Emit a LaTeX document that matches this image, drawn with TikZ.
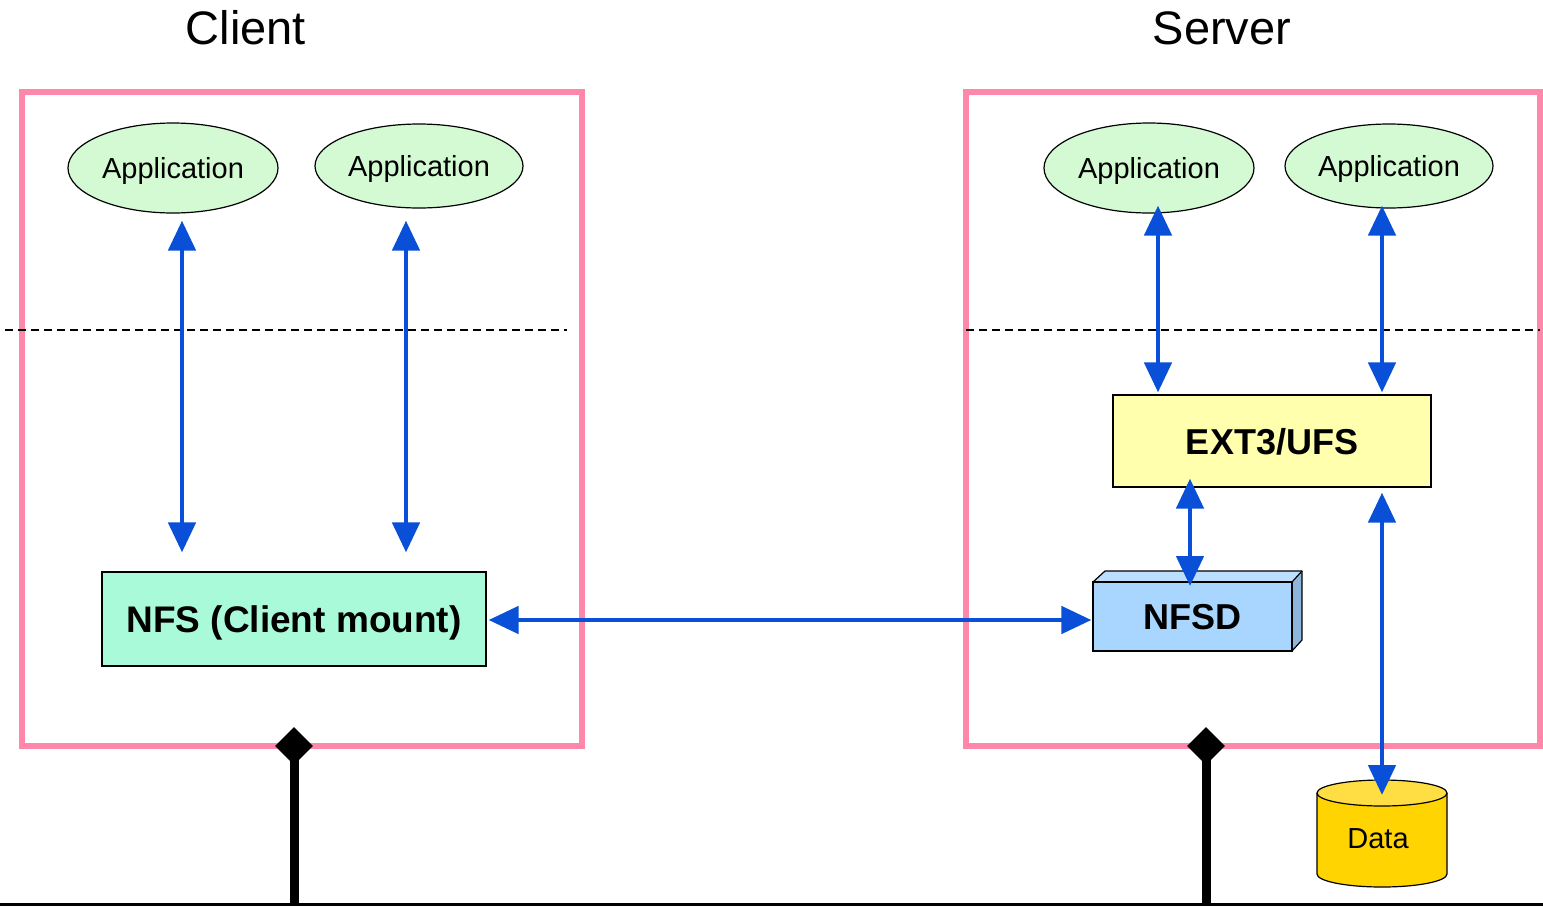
\documentclass[tikz,border=0pt]{standalone}
\usepackage{fontspec}
\setmainfont{Liberation Sans}
\usetikzlibrary{arrows.meta,shapes.geometric,calc}
\definecolor{pinkb}{HTML}{FF88AA}
\definecolor{appfill}{HTML}{D4FAD4}
\definecolor{nfsfill}{HTML}{A8FAD8}
\definecolor{nfsdfront}{HTML}{A8D6FF}
\definecolor{nfsdtop}{HTML}{BCDFFF}
\definecolor{nfsdside}{HTML}{8EB6DA}
\definecolor{extfill}{HTML}{FFFFAE}
\definecolor{databody}{HTML}{FFD400}
\definecolor{datatopc}{HTML}{FFDE44}
\definecolor{arrblue}{HTML}{0A4FD8}
\tikzset{
  hostbox/.style={draw=pinkb, line width=6pt},
  app/.style={ellipse, draw=black, line width=1.2pt, fill=appfill, inner sep=0pt, text depth=0pt, font=\fontsize{29}{34}\selectfont},
  boldbox/.style={rectangle, draw=black, line width=1.2pt, inner sep=0pt, text depth=0pt, font=\bfseries\fontsize{36}{42}\selectfont},
  biarrow/.style={draw=arrblue, line width=4.8pt, {Triangle[width=27pt,length=30pt]}-{Triangle[width=27pt,length=30pt]}},
  sep/.style={draw=black, line width=1.5pt, dash pattern=on 8pt off 5pt},
  title/.style={font=\fontsize{47}{52}\selectfont},
  port/.style={diamond, fill=black, minimum size=38pt, inner sep=0pt},
}
\begin{document}
\begin{tikzpicture}[x=1pt,y=-1pt]
\useasboundingbox (0,0) rectangle (1543,906);
% titles
\node[title] (tclient) at (246,28) {Client};
\node[title] (tserver) at (1222,28) {Server};
% host boxes
\draw[hostbox] (22,92) rectangle (582,746);
\draw[hostbox] (966,92) rectangle (1540,746);
% dashed separators
\draw[sep] (5,330) -- (567,330);
\draw[sep] (966,330) -- (1540,330);
% client nodes
\node[app, minimum width=210pt, minimum height=90pt] (ca1) at (173,168) {Application};
\node[app, minimum width=208pt, minimum height=84pt] (ca2) at (419,166) {Application};
\node[boldbox, fill=nfsfill, minimum width=384pt, minimum height=94pt, font=\bfseries\fontsize{37}{42}\selectfont] (nfs) at (294,619) {NFS (Client mount)};
% server nodes
\node[app, minimum width=210pt, minimum height=90pt] (sa1) at (1149,168) {Application};
\node[app, minimum width=208pt, minimum height=84pt] (sa2) at (1389,166) {Application};
\node[boldbox, fill=extfill, minimum width=318pt, minimum height=92pt] (ext) at (1272,441) {EXT3/UFS};
% NFSD 3D box
\fill[nfsdtop] (1093,582) -- (1105,571) -- (1302,571) -- (1292,582) -- cycle;
\fill[nfsdside] (1292,582) -- (1302,571) -- (1302,640) -- (1292,651) -- cycle;
\draw[line width=1.2pt, line join=round] (1093,582) -- (1105,571) -- (1302,571) -- (1302,640) -- (1292,651);
\draw[line width=1.2pt] (1292,582) -- (1302,571);
\node[boldbox, fill=nfsdfront, minimum width=199pt, minimum height=69pt] (nfsd) at (1192.5,616.5) {NFSD};
% Data cylinder
\fill[databody] (1317,793) -- (1317,874) arc[start angle=180, end angle=0, x radius=65, y radius=13] -- (1447,793) -- cycle;
\draw[line width=1.2pt] (1317,793) -- (1317,874) arc[start angle=180, end angle=0, x radius=65, y radius=13] -- (1447,793);
\filldraw[fill=datatopc, draw=black, line width=1.2pt] (1382,793) ellipse[x radius=65, y radius=13];
\node[font=\fontsize{29}{34}\selectfont, inner sep=0pt, text depth=0pt] (data) at (1378,839) {Data};
\coordinate (datatop) at (1382,793);
% client arrows
\draw[biarrow, shorten <=7pt, shorten >=19pt] ([xshift=9pt]ca1.south) -- ([xshift=9pt]ca1.south |- nfs.north);
\draw[biarrow, shorten <=12pt, shorten >=19pt] ([xshift=-13pt]ca2.south) -- ([xshift=-13pt]ca2.south |- nfs.north);
% horizontal arrow
\draw[biarrow, shorten <=2pt, shorten >=1pt] (nfs.east |- 0,620) -- (nfsd.west |- 0,620);
% server arrows
\draw[biarrow, shorten <=-8pt, shorten >=2pt] ([xshift=9pt]sa1.south) -- ([xshift=9pt]sa1.south |- ext.north);
\draw[biarrow, shorten <=-3pt, shorten >=2pt] ([xshift=-7pt]sa2.south) -- ([xshift=-7pt]sa2.south |- ext.north);
\draw[biarrow, shorten <=-9pt, shorten >=-4pt] (ext.south -| 1190,0) -- (1190,582);
\draw[biarrow, shorten <=5pt, shorten >=-2pt] (ext.south -| datatop) -- (datatop);
% network
\coordinate (busL) at (0,904.5);
\coordinate (busR) at (1543,904.5);
\draw[line width=3pt] (busL) -- (busR);
\node[port] (p1) at (294,746) {};
\node[port] (p2) at (1206,746) {};
\draw[line width=9pt] (p1.center) -- (p1 |- busL);
\draw[line width=9pt] (p2.center) -- (p2 |- busL);
\end{tikzpicture}
\end{document}
